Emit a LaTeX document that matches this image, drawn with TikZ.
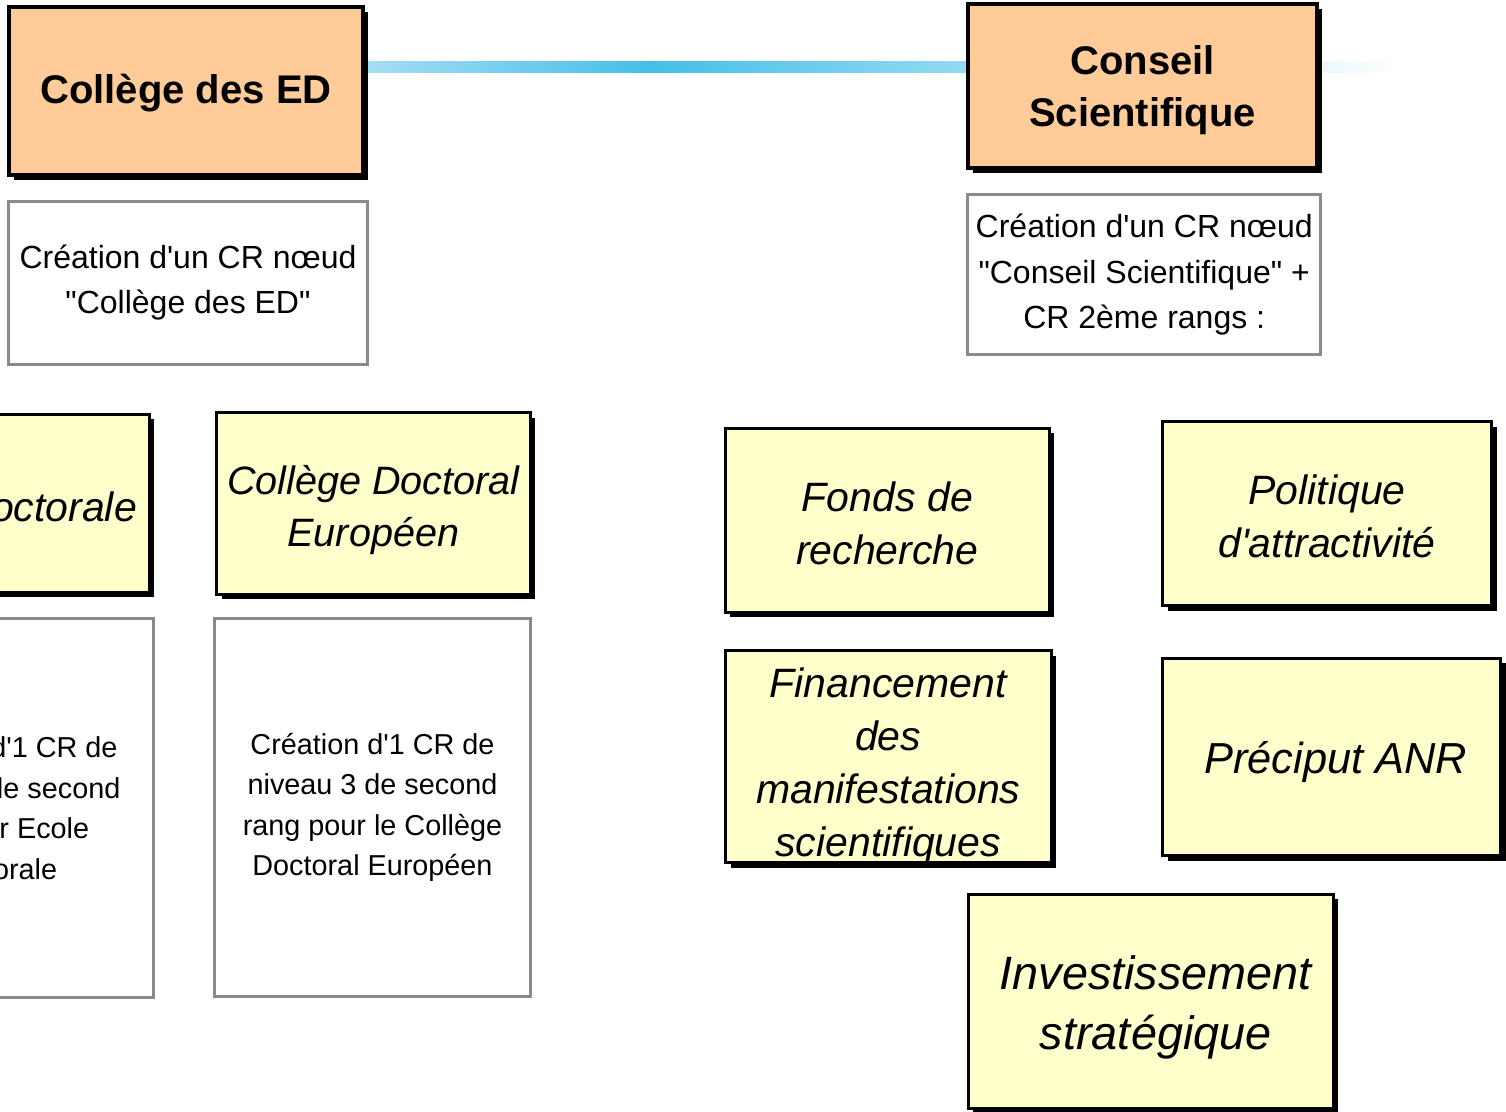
\documentclass[tikz,border=0pt]{standalone}
\usepackage{fontspec}
\setmainfont{Liberation Sans}[Ligatures=TeXOff]
\usetikzlibrary{calc,shadows}
\definecolor{headfill}{HTML}{FFCC99}
\definecolor{itemfill}{HTML}{FFFFCC}
\definecolor{noteline}{HTML}{8A8A8A}
\definecolor{linkA}{HTML}{A6DDF5}
\definecolor{linkB}{HTML}{45BFE8}
\pgfdeclarelayer{background}
\pgfsetlayers{background,main}
% centred lines, moved right by #1 and down by #2 inside the box
\newcommand\boxtext[3]{\raisebox{-#2}[\height][\depth]{\hspace*{#1}\begin{tabular}{@{}c@{}}#3\end{tabular}\hspace*{-#1}}}

\begin{document}
\begin{tikzpicture}[x=0.5pt,y=-0.5pt,
  box/.style={rectangle, inner sep=0pt, align=center, draw=black},
  shadowed/.style={drop shadow={shadow xshift=2.5pt, shadow yshift=-2.5pt, opacity=1, fill=black}},
  headbox/.style={box, shadowed, line width=2pt, fill=headfill,
    font=\fontsize{20}{26}\selectfont\bfseries},
  itembox/.style={box, shadowed, line width=1.5pt, fill=itemfill,
    font=\fontsize{20.5}{26.5}\selectfont\itshape},
  notebox/.style={rectangle, inner sep=0pt, align=center, draw=noteline,
    line width=1.5pt, fill=white},
  topnote/.style={notebox, font=\fontsize{16}{22.7}\selectfont},
  lownote/.style={notebox, font=\fontsize{14.4}{20.2}\selectfont},
]
\useasboundingbox (0,0) rectangle (1506,1112);

% top level bodies
\node[headbox, minimum width=177pt, minimum height=84pt] (ced) at (186,91)
  {\boxtext{0pt}{1pt}{Collège des ED}};
\node[headbox, minimum width=174.5pt, minimum height=82pt] (cs) at (1142.5,86)
  {\boxtext{0pt}{2pt}{Conseil\\Scientifique}};

% descriptions of the nodes
\node[topnote, minimum width=179.8pt, minimum height=81.3pt] (cednote) at (188,282.8)
  {Création d'un CR nœud\\"Collège des ED"};
\node[topnote, minimum width=176.6pt, minimum height=79.8pt] (csnote) at (1144.2,274.7)
  {Création d'un CR nœud\\"Conseil Scientifique" +\\CR 2ème rangs :};

% second rank, left branch
\node[itembox, minimum width=156.75pt, minimum height=89pt] (ed) at (-7.75,503.3)
  {\boxtext{0pt}{4pt}{Ecole Doctorale}};
\node[itembox, minimum width=156.75pt, minimum height=90.75pt, font=\fontsize{19.8}{26}\selectfont\itshape]
  (cde) at (373.4,503.3) {\boxtext{0pt}{3.5pt}{Collège Doctoral\\Européen}};
\node[lownote, minimum width=158pt, minimum height=189pt] (ednote) at (-4.5,808)
  {Création d'1 CR de\\niveau 3 de second\\rang par Ecole\\Doctorale};
\node[lownote, minimum width=158pt, minimum height=189pt] (cdenote) at (372.5,807.5)
  {Création d'1 CR de\\niveau 3 de second\\rang pour le Collège\\Doctoral Européen};

% second rank, right branch
\node[itembox, minimum width=162pt, minimum height=92pt] (fonds) at (887.4,520.3)
  {\boxtext{0pt}{3.5pt}{Fonds de\\recherche}};
\node[itembox, minimum width=164.5pt, minimum height=92pt] (attr) at (1327,513.75)
  {\boxtext{0pt}{3.5pt}{Politique\\d'attractivité}};
\node[itembox, minimum width=162.75pt, minimum height=104pt] (manif) at (888.25,756.75)
  {\boxtext{0pt}{5pt}{Financement\\des\\manifestations\\scientifiques}};
\node[itembox, minimum width=169pt, minimum height=98.75pt, font=\fontsize{21.7}{26.5}\selectfont\itshape]
  (anr) at (1331.8,757) {\boxtext{2pt}{3pt}{Préciput ANR}};
\node[itembox, minimum width=182.5pt, minimum height=107pt, font=\fontsize{23.4}{30}\selectfont\itshape]
  (invest) at (1150.75,1001) {\boxtext{2.5pt}{3pt}{Investissement\\stratégique}};

% link between the two bodies, fading out behind the council
\coordinate (peak) at (650,67.5);
\coordinate (tail) at (1400,67.5);
\begin{pgfonlayer}{background}
  \shade[left color=linkA, right color=linkB]
    ($(ced.east |- peak)+(0,-5.5)$) rectangle ($(peak)+(0,5.5)$);
  \shade[left color=linkB, right color=white]
    ($(peak)+(0,-5.5)$) rectangle ($(tail)+(0,5.5)$);
\end{pgfonlayer}
\end{tikzpicture}
\end{document}
